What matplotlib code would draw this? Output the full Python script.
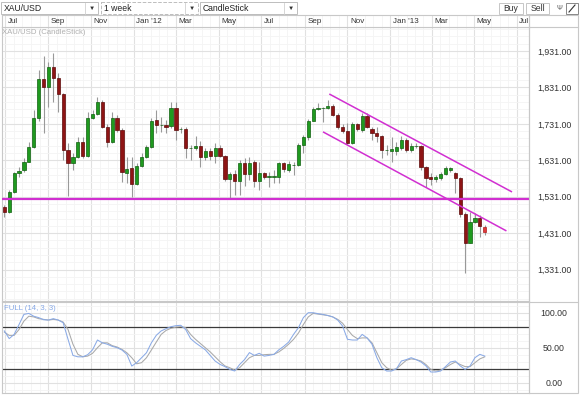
import matplotlib
matplotlib.use("Agg")
import matplotlib.pyplot as plt
import matplotlib.dates as mdates
import pandas as pd
from matplotlib.patches import Rectangle
from matplotlib.ticker import FixedLocator

plt.rcParams["font.family"] = ["Liberation Sans", "DejaVu Sans"]

# weekly XAU/USD candles
opens = [1503, 1488, 1545, 1595, 1604, 1627, 1667, 1746, 1853, 1831,
         1886, 1858, 1812, 1659, 1624, 1639, 1682, 1643, 1746, 1757,
         1790, 1723, 1682, 1746, 1714, 1597, 1609, 1566, 1616, 1639,
         1668, 1742, 1728, 1727, 1725, 1774, 1716, 1717, 1664, 1664,
         1670, 1641, 1657, 1643, 1664, 1643, 1580, 1593, 1575, 1624,
         1593, 1627, 1575, 1597, 1584, 1586, 1586, 1623, 1604, 1618,
         1618, 1673, 1694, 1740, 1773, 1774, 1774, 1781, 1755, 1722,
         1712, 1679, 1730, 1714, 1753, 1717, 1705, 1698, 1659, 1657,
         1657, 1664, 1687, 1659, 1670, 1670, 1612, 1584, 1579, 1581,
         1593, 1605, 1595, 1581, 1483, 1405, 1462, 1472, 1449]
highs = [1508, 1549, 1600, 1613, 1636, 1682, 1769, 1879, 1916, 1902,
         1925, 1870, 1815, 1678, 1650, 1696, 1696, 1764, 1769, 1806,
         1797, 1730, 1764, 1755, 1719, 1641, 1641, 1623, 1650, 1673,
         1746, 1769, 1751, 1742, 1792, 1792, 1723, 1723, 1673, 1698,
         1684, 1664, 1664, 1678, 1673, 1646, 1600, 1604, 1632, 1636,
         1641, 1632, 1627, 1600, 1600, 1604, 1627, 1627, 1630, 1627,
         1678, 1700, 1744, 1778, 1788, 1778, 1797, 1786, 1760, 1730,
         1733, 1737, 1734, 1760, 1760, 1723, 1723, 1700, 1673, 1696,
         1682, 1698, 1691, 1678, 1678, 1673, 1615, 1595, 1590, 1600,
         1615, 1612, 1600, 1586, 1490, 1490, 1485, 1481, 1453]
lows = [1476, 1486, 1540, 1586, 1600, 1626, 1665, 1740, 1705, 1778,
        1792, 1764, 1632, 1533, 1604, 1636, 1636, 1640, 1744, 1755,
        1720, 1668, 1678, 1710, 1572, 1568, 1531, 1562, 1612, 1636,
        1665, 1705, 1710, 1705, 1720, 1687, 1705, 1636, 1632, 1660,
        1613, 1632, 1632, 1623, 1640, 1574, 1527, 1536, 1536, 1560,
        1577, 1558, 1549, 1580, 1558, 1568, 1568, 1600, 1600, 1591,
        1615, 1650, 1687, 1738, 1770, 1737, 1772, 1752, 1718, 1705,
        1675, 1676, 1712, 1710, 1720, 1687, 1682, 1636, 1646, 1627,
        1646, 1660, 1654, 1655, 1664, 1604, 1558, 1563, 1572, 1578,
        1591, 1598, 1540, 1476, 1322, 1403, 1458, 1419, 1426]
closes = [1488, 1545, 1595, 1602, 1627, 1667, 1746, 1853, 1831, 1886,
          1858, 1812, 1659, 1624, 1639, 1682, 1643, 1746, 1757, 1790,
          1723, 1682, 1746, 1714, 1600, 1606, 1566, 1616, 1639, 1668,
          1740, 1728, 1729, 1723, 1774, 1714, 1717, 1664, 1665, 1670,
          1641, 1657, 1643, 1664, 1643, 1580, 1593, 1575, 1624, 1593,
          1624, 1575, 1597, 1584, 1589, 1587, 1623, 1606, 1620, 1619,
          1673, 1694, 1740, 1772, 1774, 1775, 1781, 1755, 1722, 1712,
          1679, 1730, 1716, 1753, 1723, 1705, 1698, 1659, 1660, 1661,
          1667, 1687, 1659, 1670, 1671, 1612, 1581, 1579, 1586, 1593,
          1609, 1609, 1581, 1483, 1405, 1462, 1472, 1450, 1435]

# full stochastic (14, 3, 3): %K (blue) and %D (grey)
stoch_k = [74, 63, 69, 83, 97.6, 99, 95, 93, 90, 89.5,
           91.5, 89.5, 85.7, 62, 39, 37, 37, 40, 47, 61,
           57, 55, 52, 50, 46.7, 40.5, 23.8, 28.6, 35.7, 42.8,
           57, 67.7, 74, 77.2, 80, 81.5, 82, 76, 63, 57,
           52, 47, 39, 31, 26.2, 23, 19, 16.7, 26, 33,
           43, 39, 42, 38, 39, 40.5, 47, 52, 58, 69,
           78.6, 93, 100, 100, 98.6, 97.6, 96, 94, 89.5, 81,
           62, 61, 61, 69, 64, 55, 35.7, 21.4, 16.7, 16.7,
           20, 31, 33, 35.7, 33, 29.6, 24, 15.3, 15.3, 16.7,
           23, 29.6, 31, 24, 19, 24, 35.7, 40.5, 38]
stoch_d = [72.4, 67.6, 67.6, 76, 88, 95, 94, 91.5, 90.5, 89.5,
           90.5, 89.5, 86.7, 76, 55, 40.6, 37, 38, 42, 50,
           57, 57, 53, 51, 47.6, 42.8, 35.7, 27, 28.6, 35.7,
           46.7, 58, 69, 74.7, 77.8, 79.3, 80, 78.6, 69, 62,
           56, 50, 44, 37, 30, 24, 21.4, 18, 21.4, 28.6,
           35.7, 39, 39, 40, 40.5, 40.5, 44, 49, 55, 62,
           71, 83, 94, 99, 98, 97, 96, 94, 90.5, 85,
           76, 67.6, 63, 64, 64, 57, 42.8, 28.6, 21.4, 18,
           20, 26, 32, 34, 33, 31, 26, 19, 16.7, 18,
           21.4, 26, 29.6, 26, 23, 23, 28.6, 34, 37]

weeks = pd.date_range("2011-06-30", periods=len(opens), freq="7D")

# drawn lines: support level and descending channel
support_level = 1525
channel_top = (["2012-10-07", "2013-06-23"], [1812, 1545])
channel_bottom = (["2012-09-28", "2013-06-15"], [1708, 1438])

price_ticks = [1331, 1431, 1531, 1631, 1731, 1831, 1931]
stoch_ticks = [0, 50, 100]
month_ticks = pd.date_range("2011-07-01", "2013-07-01", freq="2MS")
month_labels = ["Jul", "Sep", "Nov", "Jan '12", "Mar", "May", "Jul",
                "Sep", "Nov", "Jan '13", "Mar", "May", "Jul"]

W, H = 580, 396
GRID = "#e1e1e1"
MINOR = "#f4f4f4"
EDGE = "#c8c8c8"
TXT = "#333333"


def box(l, t, r, b):
    return [l / W, 1 - b / H, (r - l) / W, (b - t) / H]


def num(d):
    return mdates.date2num(pd.to_datetime(d))


x = mdates.date2num(weeks.to_pydatetime())
xmaj = mdates.date2num(month_ticks.to_pydatetime())
xmin = []
for a, b in zip(xmaj[:-1], xmaj[1:]):
    xmin += [a + (b - a) * k / 5 for k in range(1, 5)]
jul1 = xmaj[0]
xlim = (jul1 - 4.3, jul1 + 748.2)

fig = plt.figure(figsize=(W / 100, H / 100), dpi=100)
fig.patch.set_facecolor("white")

ax = fig.add_axes(box(2, 27, 529, 301))
ax_st = fig.add_axes(box(2, 302, 529, 393))
ax_hd = fig.add_axes(box(2, 15, 529, 27))

for a in (ax, ax_st, ax_hd):
    a.set_xlim(*xlim)
    a.xaxis.set_major_locator(FixedLocator(xmaj))
    a.xaxis.set_minor_locator(FixedLocator(xmin))
    a.tick_params(axis="x", which="both", length=0, labelbottom=False)
    for s in a.spines.values():
        s.set_color(EDGE)
        s.set_linewidth(0.8)

# ---- price panel
ax.set_ylim(1244.5, 1997)
ax.set_yticks(price_ticks)
ax.yaxis.set_minor_locator(FixedLocator(range(1251, 1997, 20)))
ax.yaxis.tick_right()
ax.set_yticklabels([f"{p:,.2f}" for p in price_ticks])
ax.tick_params(axis="y", which="both", length=0, pad=18, labelsize=6.3,
               labelcolor=TXT)
for lbl in ax.get_yticklabels():
    lbl.set_ha("center")
ax.grid(which="minor", color=MINOR, lw=0.6)
ax.grid(which="major", color=GRID, lw=0.8)
ax.set_axisbelow(True)

up = [c >= o for o, c in zip(opens, closes)]
face = ["#1f9a1f" if u else "#8e1414" for u in up]
edge = ["#0f5f0f" if u else "#5c0a0a" for u in up]
face[-1] = "#e0393b"
edge[-1] = "#b02020"
ax.vlines(x, lows, highs, color="#999999", lw=0.8, zorder=2)
heights = [max(abs(c - o), 1.2) for o, c in zip(opens, closes)]
bottoms = [min(o, c) for o, c in zip(opens, closes)]
ax.bar(x, heights, bottom=bottoms, width=4.6, color=face, edgecolor=edge,
       linewidth=0.5, zorder=3)

ax.axhline(support_level, color="#d12fd1", lw=1.6, zorder=4)
for xs, ys in (channel_top, channel_bottom):
    ax.plot([num(d) for d in xs], ys, color="#d12fd1", lw=1.1, zorder=4)

ax.text(0.0, 1 - 2.5 / 274, "XAU/USD (CandleStick)", transform=ax.transAxes,
        fontsize=5.6, color="#b0b0b0", va="top", ha="left")

# ---- stochastic panel
ax_st.set_ylim(-14.7, 115.3)
ax_st.set_yticks(stoch_ticks)
ax_st.yaxis.set_minor_locator(FixedLocator(range(-10, 115, 10)))
ax_st.yaxis.tick_right()
ax_st.set_yticklabels([f"{v:.2f}" for v in stoch_ticks])
ax_st.tick_params(axis="y", which="both", length=0, pad=18, labelsize=6.3,
                  labelcolor=TXT)
for lbl in ax_st.get_yticklabels():
    lbl.set_ha("center")
ax_st.grid(which="minor", color=MINOR, lw=0.6)
ax_st.grid(which="major", color=GRID, lw=0.8)
ax_st.set_axisbelow(True)
ax_st.axhline(80, color="#3a3a3a", lw=0.9)
ax_st.axhline(20, color="#3a3a3a", lw=0.9)
ax_st.plot(x, stoch_d, color="#a9a9a9", lw=0.75)
ax_st.plot(x, stoch_k, color="#8aaae6", lw=0.75)
ax_st.text(0.003, 1 - 2.5 / 91, "FULL (14, 3, 3)", transform=ax_st.transAxes,
           fontsize=5.6, color="#86a8e6", va="top", ha="left")

# ---- month header
ax_hd.set_ylim(0, 1)
ax_hd.set_yticks([])
ax_hd.grid(which="major", axis="x", color=GRID, lw=0.8)
ax_hd.grid(which="minor", axis="x", color=MINOR, lw=0.6)
for xm, lab in zip(xmaj, month_labels):
    ax_hd.text(xm + 3.5, 0.45, lab, fontsize=5.8, color=TXT, va="center",
               ha="left", clip_on=True)

# ---- toolbar and right-hand frame
ui = fig.add_axes([0, 0, 1, 1], zorder=5)
ui.set_xlim(0, W)
ui.set_ylim(H, 0)
ui.axis("off")
ui.patch.set_alpha(0)

ui.add_patch(Rectangle((529, 15), 49, 378, fill=False, ec=EDGE, lw=0.8))
ui.plot([529, 578], [27, 27], color=EDGE, lw=0.8)
ui.plot([529, 578], [301.5, 301.5], color=EDGE, lw=0.8)

for left, label, dashed in ((1, "XAU/USD", False), (101, "1 week", True),
                            (200, "CandleStick", False)):
    ui.add_patch(Rectangle((left, 2), 97, 12, fc="white", ec="#bdbdbd",
                           lw=0.7, ls="--" if dashed else "-"))
    ui.text(left + 3, 8.2, label, fontsize=6.2, color="#222222",
            va="center", ha="left")
    ui.plot([left + 84, left + 84], [2.5, 13.5], color="#d0d0d0", lw=0.6)
    ui.text(left + 90.5, 8.2, "\u25bc", fontsize=4.5, color="#333333",
            va="center", ha="center")

for l, r, label in ((499, 523, "Buy"), (526, 549, "Sell")):
    ui.add_patch(Rectangle((l, 2.5), r - l, 11.5, fc="white", ec="#c6c6c6",
                           lw=0.7))
    ui.text((l + r) / 2, 8.3, label, fontsize=6.2, color="#333333",
            va="center", ha="center")
ui.text(559, 8.3, "\u03a8", fontsize=5, color="#555555", va="center",
        ha="center")
ui.add_patch(Rectangle((566, 2.5), 12, 11.5, fc="white", ec="#888888",
                       lw=0.7))
ui.plot([569, 575], [12, 5], color="#333333", lw=0.8)

fig.savefig("out.png", dpi=100)
